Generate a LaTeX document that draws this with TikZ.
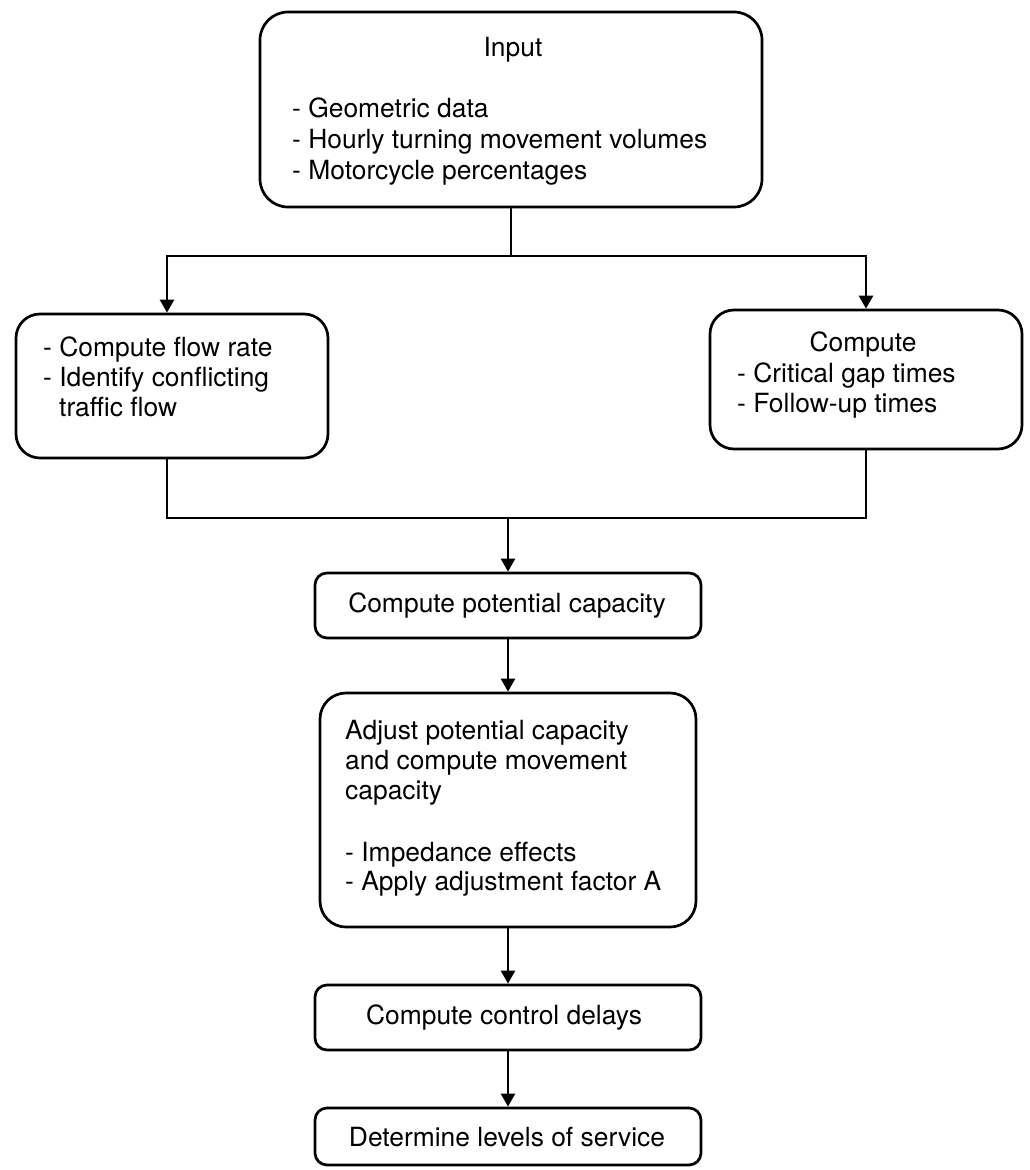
\documentclass[tikz,border=0pt]{standalone}
\usepackage{fontspec}
\setmainfont{TeX Gyre Heros}
\usetikzlibrary{arrows.meta}
\begin{document}
\begin{tikzpicture}[x=1pt,y=-1pt,
  box/.style={draw, line width=2.7pt, rounded corners=#1, inner sep=0pt},
  txt/.style={inner sep=0pt, anchor=base west, font=\fontsize{26.4}{30}\selectfont},
  ctxt/.style={inner sep=0pt, anchor=base, font=\fontsize{26.4}{30}\selectfont},
  conn/.style={line width=2.5pt},
  arr/.style={line width=2.5pt, -{Triangle[length=13pt,width=14pt]}}]
\useasboundingbox (0,0) rectangle (1029,1170);
% boxes
\node[box=28pt, minimum width=502pt, minimum height=195pt] (input) at (511,109.5) {};
\node[box=24pt, minimum width=312pt, minimum height=144pt] (left) at (172,386) {};
\node[box=24pt, minimum width=312pt, minimum height=139pt] (right) at (866,379.5) {};
\node[box=12pt, minimum width=386pt, minimum height=65pt] (pot) at (508,605.5) {};
\node[box=26pt, minimum width=376pt, minimum height=234pt] (adj) at (508,810) {};
\node[box=12pt, minimum width=386pt, minimum height=65pt] (ctrl) at (508,1017.5) {};
\node[box=12pt, minimum width=386pt, minimum height=57pt] (lev) at (508,1136.5) {};
% texts
\node[ctxt] (t1) at (513,56) {Input};
\node[txt] (t2) at (292,117) {- Geometric data};
\node[txt] (t3) at (292,148) {- Hourly turning movement volumes};
\node[txt] (t4) at (292,179) {- Motorcycle percentages};
\node[txt] (l1) at (43,356) {- Compute flow rate};
\node[txt] (l2) at (43,386) {- Identify conflicting};
\node[txt] (l3) at (59,416) {traffic flow};
\node[ctxt] (r1) at (863,351) {Compute};
\node[txt] (r2) at (737,382) {- Critical gap times};
\node[txt] (r3) at (737,412) {- Follow-up times};
\node[ctxt] (p1) at (507,612) {Compute potential capacity};
\node[txt] (a1) at (345,739) {Adjust potential capacity};
\node[txt] (a2) at (345,769) {and compute movement};
\node[txt] (a3) at (345,799) {capacity};
\node[txt] (a4) at (345,861) {- Impedance effects};
\node[txt] (a5) at (345,890) {- Apply adjustment factor A};
\node[ctxt] (c1) at (504,1024) {Compute control delays};
\node[ctxt] (v1) at (507,1146) {Determine levels of service};
% connectors
\coordinate (split) at (511,256);
\coordinate (join) at (508,518);
\coordinate (lin) at ([xshift=-5pt]left.north);
\coordinate (lout) at ([xshift=-5pt]left.south);
\draw[conn] (input.south) -- (split);
\draw[arr] (split) -| (lin);
\draw[arr] (split) -| (right.north);
\draw[conn] (lout) |- (join) -| (right.south);
\draw[arr] (join) -- (pot.north);
\draw[arr] (pot.south) -- (adj.north);
\draw[arr] (adj.south) -- (ctrl.north);
\draw[arr] (ctrl.south) -- (lev.north);
\end{tikzpicture}
\end{document}
